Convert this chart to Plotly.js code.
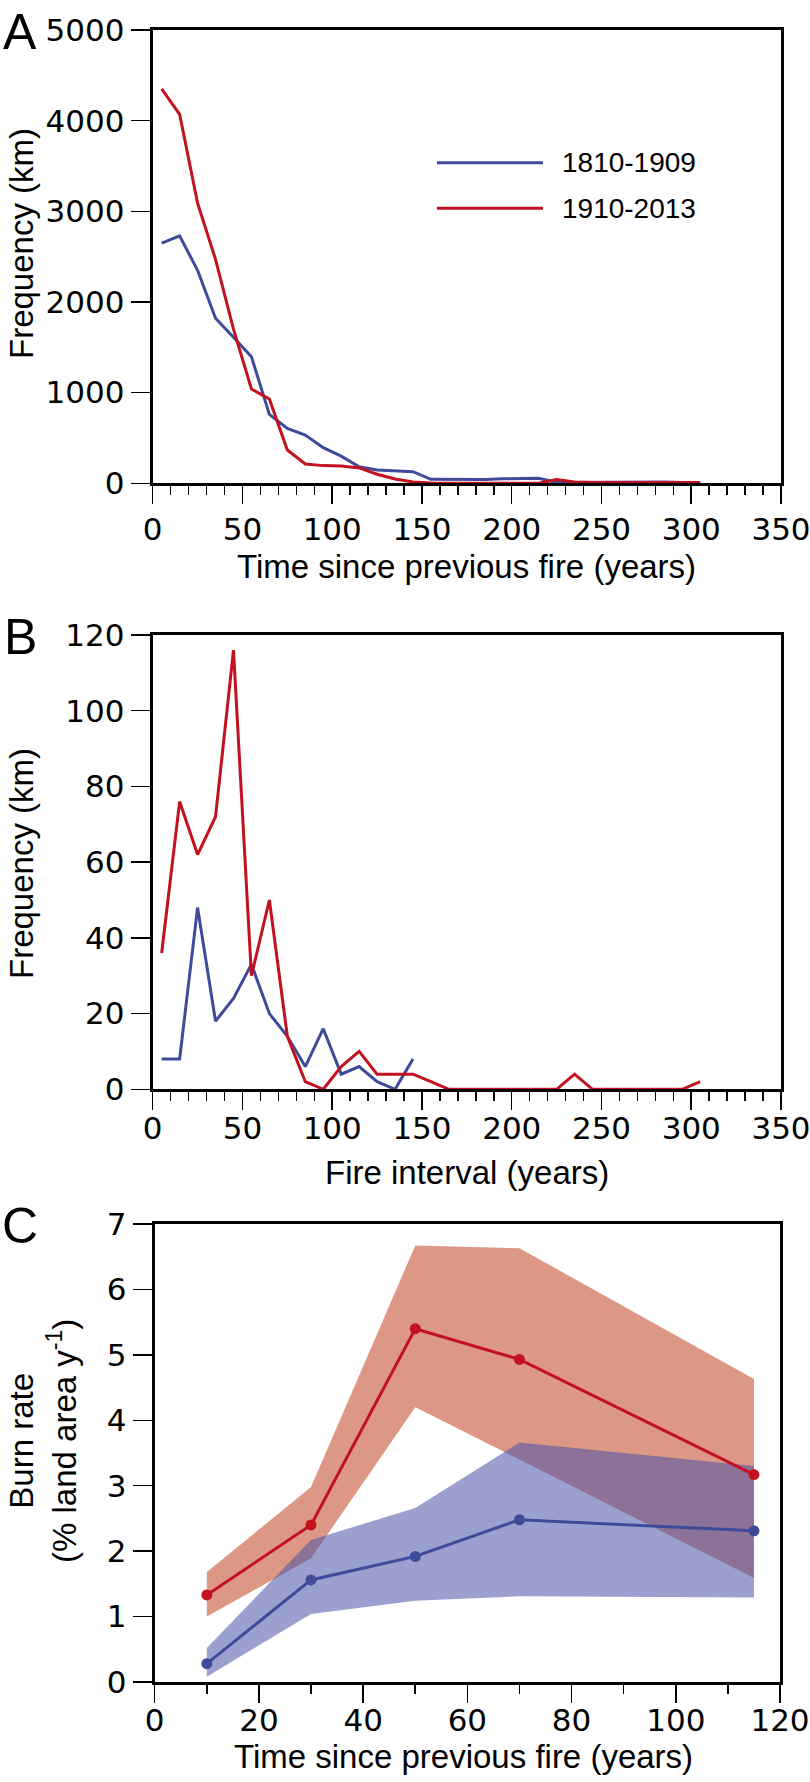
<!DOCTYPE html>
<html>
<head>
<meta charset="utf-8">
<script src="https://cdn.plot.ly/plotly-3.0.1.min.js"></script>
<style>
html,body{margin:0;padding:0;background:#fff;}
#chart{width:810px;height:1782px;}
</style>
</head>
<body>
<div id="chart"></div>
<script>
// ---------- DATA ----------
const seriesNames = ['1810-1909', '1910-2013'];

// Panel A: frequency (km) vs time since previous fire (10-yr bins, midpoints)
const binsA = [5,15,25,35,45,55,65,75,85,95,105,115,125,135,145,155,165,175,185,195,205,215,225,235,245,255,265,275,285,295,305];
const blueA = [2650,2730,2350,1820,1610,1395,760,606,532,393,300,183,147,140,128,44,42,42,42,50,55,55,8,10,15,15,18,18,15,10,5];
const redA  = [4350,4070,3090,2470,1700,1040,930,367,213,195,190,170,100,47,15,3,0,0,0,0,0,0,42,15,10,10,12,12,10,10,10];

// Panel B: frequency (km) vs fire interval
const binsB = [5,15,25,35,45,55,65,75,85,95,105,115,125,135,145,155,165,175,185,195,205,215,225,235,245,255,265,275,285,295,305];
const blueB = [8,8,48,18,24,33,20,14,6,16,4,6,2,0,8];
const redB  = [36,76,62,72,116,30,50,14,2,0,6,10,4,4,4,2,0,0,0,0,0,0,0,4,0,0,0,0,0,0,2];

// Panel C: burn rate vs time since previous fire
const timeC      = [10,30,50,70,115];
const blueC      = [0.28,1.56,1.92,2.48,2.31];
const blueCUpper = [0.52,2.17,2.66,3.66,3.30];
const blueCLower = [0.08,1.04,1.24,1.31,1.29];
const redC       = [1.33,2.40,5.40,4.93,3.17];
const redCUpper  = [1.68,2.98,6.67,6.63,4.63];
const redCLower  = [1.00,1.89,4.20,3.40,1.59];

const panelLabels = ['A','B','C'];
const xTitles = ['Time since previous fire (years)', 'Fire interval (years)', 'Time since previous fire (years)'];
const yTitles = ['Frequency (km)', 'Frequency (km)', 'Burn rate<br>(% land area y<sup>-1</sup>)'];

// ---------- STYLE ----------
const W = 810, H = 1782;
const BLUE = '#3f4a9b', RED = '#c3121f';
const BLUE_FILL = 'rgba(73,82,168,0.55)', RED_FILL = 'rgb(221,152,133)';
const TXT = 'Liberation Sans, Arial, sans-serif';
const TICKF = {family:'DejaVu Sans, sans-serif', size:31, color:'#000'};
const px = v => v / W;
const py = v => 1 - v / H;

// plot boxes in pixels [left, right, top, bottom]
const boxA = [152.7, 781, 30, 483.3];
const boxB = [152.7, 781, 635, 1089.3];
const boxC = [154.7, 780, 1224, 1682];

function xax(box, range, dtick, minorDtick, anchor, standoff) {
  return {
    domain: [px(box[0]), px(box[1])], range: range, anchor: anchor,
    showline: true, linewidth: 3, linecolor: '#000', mirror: true,
    ticks: 'outside', ticklen: 18, tickwidth: 1.5, tickcolor: '#000',
    tick0: 0, dtick: dtick, ticklabelstandoff: standoff, ticklabeloverflow: 'allow',
    minor: {ticks: 'outside', ticklen: 9, tickwidth: 1.5, tickcolor: '#000', tick0: 0, dtick: minorDtick, showgrid: false},
    showgrid: false, zeroline: false, tickfont: TICKF, fixedrange: true
  };
}
function yax(box, range, dtick, anchor) {
  return {
    domain: [py(box[3]), py(box[2])], range: range, anchor: anchor,
    showline: true, linewidth: 3, linecolor: '#000', mirror: true,
    ticks: 'outside', ticklen: 19, tickwidth: 1.5, tickcolor: '#000',
    tick0: 0, dtick: dtick, ticklabeloverflow: 'allow',
    showgrid: false, zeroline: false, tickfont: TICKF, fixedrange: true
  };
}

// ---------- TRACES ----------
const lineW = 3;
const traces = [
  {x: binsA, y: blueA, xaxis: 'x', yaxis: 'y', mode: 'lines', line: {color: BLUE, width: lineW}, name: seriesNames[0]},
  {x: binsA, y: redA,  xaxis: 'x', yaxis: 'y', mode: 'lines', line: {color: RED, width: lineW}, name: seriesNames[1]},
  {x: binsB.slice(0, blueB.length), y: blueB, xaxis: 'x2', yaxis: 'y2', mode: 'lines', line: {color: BLUE, width: lineW}, name: seriesNames[0]},
  {x: binsB, y: redB, xaxis: 'x2', yaxis: 'y2', mode: 'lines', line: {color: RED, width: lineW}, name: seriesNames[1]},
  // bands
  {x: timeC.concat(timeC.slice().reverse()), y: redCUpper.concat(redCLower.slice().reverse()),
   xaxis: 'x3', yaxis: 'y3', mode: 'lines', fill: 'toself', fillcolor: RED_FILL, line: {width: 0, color: RED_FILL}, hoverinfo: 'skip'},
  {x: timeC.concat(timeC.slice().reverse()), y: blueCUpper.concat(blueCLower.slice().reverse()),
   xaxis: 'x3', yaxis: 'y3', mode: 'lines', fill: 'toself', fillcolor: BLUE_FILL, line: {width: 0, color: BLUE_FILL}, hoverinfo: 'skip'},
  {x: timeC, y: redC, xaxis: 'x3', yaxis: 'y3', mode: 'lines+markers', line: {color: RED, width: lineW}, marker: {color: RED, size: 11}, name: seriesNames[1]},
  {x: timeC, y: blueC, xaxis: 'x3', yaxis: 'y3', mode: 'lines+markers', line: {color: BLUE, width: lineW}, marker: {color: BLUE, size: 11}, name: seriesNames[0]}
];

// ---------- ANNOTATIONS ----------
const boxes = [boxA, boxB, boxC];
const annotations = [];
const shapes = [];
boxes.forEach((b, i) => {
  annotations.push({xref: 'paper', yref: 'paper', x: px(20), y: py(b[2] + 2), text: panelLabels[i],
    showarrow: false, xanchor: 'center', yanchor: 'middle', font: {family: TXT, size: 50, color: '#000'}});
});
const xTitleY = [566.5, 1172, 1756];
const xTitleX = [467, 467, 463];
xTitles.forEach((t, i) => {
  annotations.push({xref: 'paper', yref: 'paper', x: px(xTitleX[i]), y: py(xTitleY[i]), text: t, showarrow: false,
    xanchor: 'center', yanchor: 'middle', font: {family: TXT, size: 33, color: '#000'}});
});
const yTitleX = [21, 21, 43];
const yTitleY = [244, 864, 1441];
yTitles.forEach((t, i) => {
  annotations.push({xref: 'paper', yref: 'paper', x: px(yTitleX[i]), y: py(yTitleY[i]), text: t, showarrow: false,
    textangle: -90, xanchor: 'center', yanchor: 'middle', align: 'center', font: {family: TXT, size: 33, color: '#000'}});
});
// legend in panel A
const legY = [162.7, 208.3];
const legColors = [BLUE, RED];
seriesNames.forEach((n, i) => {
  shapes.push({type: 'line', xref: 'paper', yref: 'paper', x0: px(437), x1: px(543), y0: py(legY[i]), y1: py(legY[i]),
    line: {color: legColors[i], width: 3}});
  annotations.push({xref: 'paper', yref: 'paper', x: px(560), y: py(legY[i]), text: n, showarrow: false,
    xanchor: 'left', yanchor: 'middle', font: {family: TXT, size: 28, color: '#000'}});
});

const layout = {
  width: W, height: H,
  margin: {l: 0, r: 0, t: 0, b: 0},
  paper_bgcolor: '#fff', plot_bgcolor: '#fff',
  showlegend: false,
  xaxis:  xax(boxA, [0, 350], 50, 10, 'y', -2),
  yaxis:  yax(boxA, [0, 5000], 1000, 'x'),
  xaxis2: xax(boxB, [0, 350], 50, 10, 'y2', -9),
  yaxis2: yax(boxB, [0, 120], 20, 'x2'),
  xaxis3: xax(boxC, [0, 120], 20, 10, 'y3', -9),
  yaxis3: yax(boxC, [0, 7], 1, 'x3'),
  annotations: annotations,
  shapes: shapes
};

Plotly.newPlot('chart', traces, layout, {displayModeBar: false, staticPlot: true});
</script>
</body>
</html>
